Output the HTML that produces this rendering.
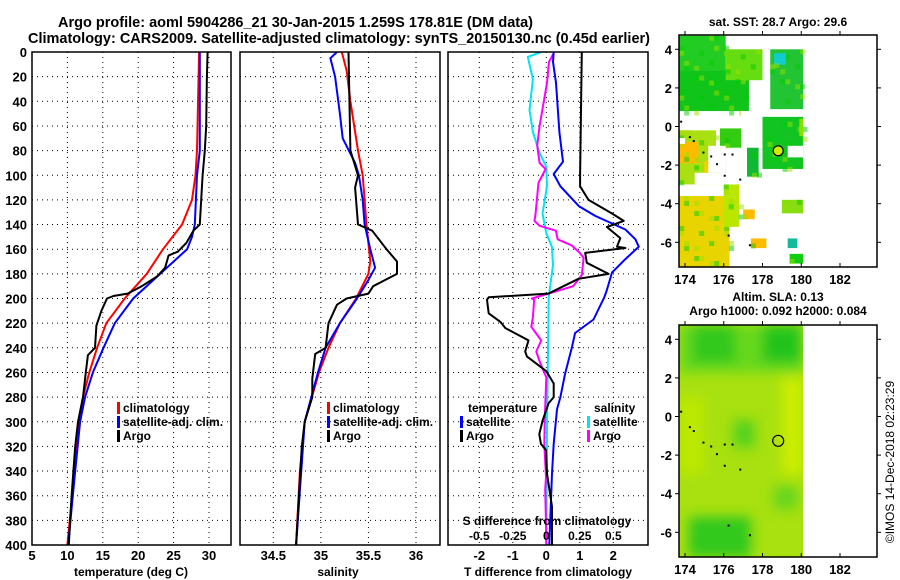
<!DOCTYPE html>
<html><head><meta charset="utf-8"><style>
html,body{margin:0;padding:0;background:#fff;}
svg{display:block;font-family:"Liberation Sans",sans-serif;font-weight:bold;}
</style></head><body>
<svg id="c" width="900" height="580" viewBox="0 0 900 580" xmlns="http://www.w3.org/2000/svg">
<defs>
<filter id="blur" x="-20%" y="-20%" width="140%" height="140%"><feGaussianBlur stdDeviation="6"/></filter>
<clipPath id="clipP1"><rect x="32" y="52" width="199" height="493"/></clipPath>
<clipPath id="clipP2"><rect x="240" y="52" width="200" height="493"/></clipPath>
<clipPath id="clipP3"><rect x="448" y="52" width="200" height="493"/></clipPath>
<clipPath id="clipM2"><rect x="679" y="35" width="198" height="232"/></clipPath>
<clipPath id="clipM3"><rect x="679" y="325" width="198" height="232"/></clipPath>
</defs>
<text x="58" y="27" font-size="15" textLength="475" lengthAdjust="spacingAndGlyphs">Argo profile: aoml 5904286_21 30-Jan-2015 1.259S 178.81E (DM data)</text>
<text x="28" y="43" font-size="15" textLength="622" lengthAdjust="spacingAndGlyphs">Climatology: CARS2009. Satellite-adjusted climatology: synTS_20150130.nc (0.45d earlier)</text>
<text x="778" y="26" font-size="12" text-anchor="middle">sat. SST: 28.7 Argo: 29.6</text>
<text x="778" y="301" font-size="12" text-anchor="middle">Altim. SLA: 0.13</text>
<text x="778" y="315" font-size="12" text-anchor="middle">Argo h1000: 0.092 h2000: 0.084</text>
<text transform="translate(894,462) rotate(-90)" font-size="12" font-weight="normal" text-anchor="middle">©IMOS 14-Dec-2018 02:23:29</text>
<g id="g"></g>
</svg>
<script>
// ---------------- data ----------------
const depthTicks=[0,20,40,60,80,100,120,140,160,180,200,220,240,260,280,300,320,340,360,380,400];
const tempTicks=[5,10,15,20,25,30];
const salTicks=[34.5,35,35.5,36];
const tdiffTicks=[-2,-1,0,1,2];
const sdiffTickLabels=["-0.5","-0.25","0","0.25","0.5"];
const sdiffTicks=[-0.5,-0.25,0,0.25,0.5];
const lonTicks=[174,176,178,180,182];
const latTicks=[4,2,0,-2,-4,-6];

const tArgoDepth=[0,20,60,80,100,120,140,145,155,162,165,175,182,190,196,198,200,210,222,240,246,260,280,300,320,360,400];
const tArgoVal=[29.8,29.7,29.6,29.4,29.1,28.9,28.7,27.8,26.8,25.6,24.3,23.8,22.7,20.5,18.5,16.5,15.6,14.8,14.1,13.9,12.9,12.6,12.2,11.5,11.1,10.6,10.2];
const tClimDepth=[0,80,100,120,140,160,180,200,220,240,260,280,300,340,400];
const tClimVal=[28.6,28.3,28.1,27.6,26.2,23.5,21.2,18.1,15.5,14.2,13.1,12.2,11.6,11.0,10.0];
const tSatDepth=[0,80,100,140,150,160,180,200,220,240,260,280,300,340,400];
const tSatVal=[28.7,28.7,28.3,28.0,27.6,26.9,23.1,19.3,16.7,15.1,13.6,12.5,11.8,11.1,10.1];

const sArgoDepth=[0,80,100,110,140,145,160,170,180,190,196,200,205,220,240,245,265,280,300,320,400];
const sArgoVal=[35.29,35.31,35.39,35.36,35.39,35.54,35.69,35.80,35.80,35.55,35.50,35.27,35.17,35.08,35.05,34.94,34.91,34.91,34.83,34.80,34.74];
const sClimDepth=[0,15,40,80,100,140,170,180,200,220,240,260,300,340,400];
const sClimVal=[35.22,35.27,35.31,35.39,35.44,35.48,35.52,35.50,35.37,35.20,35.08,34.98,34.83,34.78,34.74];
const sSatDepth=[0,5,20,50,70,90,100,120,140,160,175,185,200,220,240,260,300,400];
const sSatVal=[35.17,35.10,35.15,35.20,35.23,35.36,35.40,35.44,35.46,35.52,35.57,35.50,35.38,35.20,35.05,34.97,34.83,34.74];

const dTArgoDepth=[0,100,109,120,131,137,142,151,158,159,163,171,180,184,196,199,201,212,219,224,234,243,247,259,269,280,285,299,310,318,323,342,369,400];
const dTArgoVal=[1.06,1.01,1.01,1.26,1.96,2.31,1.81,2.21,2.11,2.36,1.16,1.21,1.86,0.96,0.06,-1.72,-1.77,-1.72,-1.37,-1.22,-0.53,-0.63,-0.58,0.0,0.22,0.22,0.07,-0.11,-0.21,-0.16,-0.01,0.02,0.17,0.17];
const dTSatDepth=[0,8,25,65,89,99,109,125,133,144,152,158,168,179,193,199,217,228,240,261,280,290,318,342,400];
const dTSatVal=[0.22,0.20,0.29,0.39,0.50,0.22,0.42,0.97,1.46,2.36,2.66,2.76,2.36,1.96,1.81,1.73,1.41,0.86,0.76,0.56,0.42,0.32,0.22,0.17,0.09];
const dSArgoDepth=[1,8,25,60,76,90,95,106,131,137,141,145,152,157,163,167,181,190,196,200,201,215,223,234,243,251,264,288,302,318,345,355,383,400];
const dSArgoVal=[0.055,0.02,0.005,-0.05,-0.068,-0.05,-0.005,-0.058,-0.08,-0.088,-0.05,0.072,0.085,0.19,0.25,0.278,0.265,0.2,0.018,-0.108,-0.09,-0.1,-0.112,-0.038,-0.075,-0.05,0.0,-0.008,-0.012,-0.015,-0.002,-0.008,-0.002,0.0];
const dSSatDepth=[0,4,22,47,65,82,93,109,131,147,158,173,199,201,302,400];
const dSSatVal=[-0.038,-0.138,-0.1,-0.125,-0.1,-0.05,0.0,0.005,-0.028,0.0,0.042,0.05,0.018,0.018,0.005,0.0];

// SST map patches: lon0, lon1, lat0, lat1, colour
const sstLon0=[173.7,173.7,176.1,178.4,178.6,173.7,173.7,173.7,176.0,178.0,177.2,175.8,179.0,179.3,179.4,177.0,177.4,173.7,175.0,179.9];
const sstLon1=[176.1,177.3,178.0,180.1,179.2,175.6,174.7,176.3,176.8,180.1,177.8,176.9,180.1,179.8,180.1,177.6,178.2,174.4,176.1,180.1];
const sstLat0=[2.9,0.8,2.4,0.9,3.2,-3.0,-1.9,-7.3,-5.2,-2.2,-2.6,-1.1,-4.5,-6.3,-7.1,-4.8,-6.3,-0.6,-2.4,-0.5];
const sstLat1=[4.7,2.9,4.0,4.0,3.8,-0.2,-0.8,-3.6,-3.0,0.5,-1.1,-0.1,-3.8,-5.8,-6.6,-4.3,-5.8,-0.2,-1.8,0.4];
const sstCol=["#22cc22","#11c41a","#66dd11","#22c433","#11cccc","#aae011","#ffbb00","#e8d400","#bbe600","#11c422","#11b833","#33cc11","#88dd11","#11bb99","#11cc11","#ffbb00","#ffbb00","#aadd11","#ffcc00","#88dd00"];

// SLA map blobs
const slaLon0=[173.7,174.4,178.0,179.0,174.2,176.5,178.6,173.7];
const slaLon1=[180.1,176.6,180.0,180.1,177.4,177.6,179.8,175.0];
const slaLat0=[2.3,2.8,2.8,-3.0,-7.3,-1.6,-4.8,-3.0];
const slaLat1=[4.74,4.74,4.74,2.0,-5.2,-0.2,-3.6,1.0];
const slaCol=["#66d81a","#33c81a","#22c41a","#ccee00","#33c81a","#55d11a","#66d61a","#bde800"];

const argoLon=178.81, argoLat=-1.259;
const coastLon=[173.75,174.2,174.4,174.9,175.3,175.6,176.0,176.4,176.0,176.8,176.2,177.3];
const coastLat=[0.3,-0.5,-0.7,-1.3,-1.5,-1.9,-1.4,-1.4,-2.5,-2.7,-5.6,-6.1];

// ---------------- helpers ----------------
const NS="http://www.w3.org/2000/svg";
const G=document.getElementById('g');
function el(tag,attrs,parent){const e=document.createElementNS(NS,tag);for(const k in attrs)e.setAttribute(k,attrs[k]);(parent||G).appendChild(e);return e;}
const Y0=52,Y1=545;
const yD=d=>Y0+(d/400)*(Y1-Y0);
function xLin(a0,a1,p0,p1){return v=>p0+(v-a0)/(a1-a0)*(p1-p0);}
const xT=xLin(5,30,32,209);
const xS=xLin(34.5,36,273.3,416);
const xDT=xLin(-2,2,479.3,613.3);
const xDS=v=>xDT(v*4);
const lonX=xLin(174,182,685,840);
const latY1=xLin(4,-6,49.3,242.3);
const latY2=xLin(4,-6,339.3,532.3);

function grid(px0,px1,xs){
  const gg=el('g',{});
  
  
  depthTicks.forEach(d=>{if(d>0&&d<400)el('line',{x1:px0,x2:px1,y1:yD(d),y2:yD(d),stroke:'#000','stroke-width':1,'stroke-dasharray':'1,4'},gg);});
  xs.forEach(x=>{if(x>px0+2&&x<px1-2)el('line',{x1:x,x2:x,y1:Y0,y2:Y1,stroke:'#000','stroke-width':1,'stroke-dasharray':'1,4'},gg);});
}
function frame(x0,x1,name){
  const r=el('rect',{x:x0,y:Y0,width:x1-x0,height:Y1-Y0,fill:'none',stroke:'#000','stroke-width':1.5});
  
  
}
function line(ds,vs,fx,col,clip,name){
  const pts=ds.map((d,i)=>fx(vs[i]).toFixed(1)+','+yD(d).toFixed(1)).join(' ');
  const p=el('polyline',{points:pts,fill:'none',stroke:col,'stroke-width':2,'clip-path':'url(#'+clip+')','stroke-linejoin':'round'});
  
  
}
function txt(x,y,s,size,anchor,name,extra){
  const t=el('text',Object.assign({x:x,y:y,'font-size':size,'text-anchor':anchor||'middle'},extra||{}));
  t.textContent=s;
  
  
  return t;
}
function legendEntry(x,y,col,label,name){
  const b=el('rect',{x:x,y:y-10,width:3,height:12,fill:col});
  
  
  txt(x+6,y,label,12,'start',name);
}

// ---------------- panel 1: temperature ----------------
grid(32,231,tempTicks.map(xT));
line(tClimDepth,tClimVal,xT,'#ff0000','clipP1','temp-climatology-line');
line(tSatDepth,tSatVal,xT,'#0000ff','clipP1','temp-satellite-line');
line(tArgoDepth,tArgoVal,xT,'#000000','clipP1','temp-argo-line');
frame(32,231,'temperature-panel');
depthTicks.forEach(d=>txt(27,yD(d)+5,String(d),13,'end','depth-tick-label'));
tempTicks.forEach(v=>txt(xT(v),560,String(v),13,'middle','temp-tick-label'));
txt(131,576,'temperature (deg C)',12,'middle','temperature-axis-title');
legendEntry(117,412,'#ff0000','climatology','legend-climatology');
legendEntry(117,426,'#0000ff','satellite-adj. clim.','legend-satellite-adj');
legendEntry(117,440,'#000000','Argo','legend-argo');

// ---------------- panel 2: salinity ----------------
grid(240,440,salTicks.map(xS));
line(sClimDepth,sClimVal,xS,'#ff0000','clipP2','sal-climatology-line');
line(sSatDepth,sSatVal,xS,'#0000ff','clipP2','sal-satellite-line');
line(sArgoDepth,sArgoVal,xS,'#000000','clipP2','sal-argo-line');
frame(240,440,'salinity-panel');
salTicks.forEach(v=>txt(xS(v),560,String(v),13,'middle','sal-tick-label'));
txt(338,576,'salinity',12,'middle','salinity-axis-title');
legendEntry(327,412,'#ff0000','climatology','legend2-climatology');
legendEntry(327,426,'#0000ff','satellite-adj. clim.','legend2-satellite-adj');
legendEntry(327,440,'#000000','Argo','legend2-argo');

// ---------------- panel 3: differences ----------------
grid(448,648,tdiffTicks.map(xDT));
line(dSSatDepth,dSSatVal,xDS,'#00e5ee','clipP3','sdiff-satellite-line');
line(dSArgoDepth,dSArgoVal,xDS,'#ff00ff','clipP3','sdiff-argo-line');
line(dTSatDepth,dTSatVal,xDT,'#0000ff','clipP3','tdiff-satellite-line');
line(dTArgoDepth,dTArgoVal,xDT,'#000000','clipP3','tdiff-argo-line');
frame(448,648,'difference-panel');
tdiffTicks.forEach(v=>txt(xDT(v),560,String(v),13,'middle','tdiff-tick-label'));
sdiffTicks.forEach((v,i)=>txt(xDS(v),540,sdiffTickLabels[i],12,'middle','sdiff-tick-label'));
txt(547,525,'S difference from climatology',12,'middle','sdiff-axis-title');
txt(548,576,'T difference from climatology',12,'middle','tdiff-axis-title');
txt(468,412,'temperature',12,'start','legend3-temperature-heading');
legendEntry(460,426,'#0000ff','satellite','legend3-t-satellite');
legendEntry(460,440,'#000000','Argo','legend3-t-argo');
txt(594,412,'salinity',12,'start','legend3-salinity-heading');
legendEntry(587,426,'#00e5ee','satellite','legend3-s-satellite');
legendEntry(587,440,'#ff00ff','Argo','legend3-s-argo');

// ---------------- maps ----------------
function mapAxes(top,bottom,latY,name){
  const r=el('rect',{x:679,y:top,width:198,height:bottom-top,fill:'none',stroke:'#000','stroke-width':1.5});
  
  
  lonTicks.forEach(l=>{const x=lonX(l);
    el('line',{x1:x,x2:x,y1:top,y2:top-4,stroke:'#000'});el('line',{x1:x,x2:x,y1:bottom,y2:bottom-4,stroke:'#000'});
    txt(x,bottom+17,String(l),13,'middle',name+'-lon-tick');});
  latTicks.forEach(l=>{const y=latY(l);
    el('line',{x1:877,x2:881,y1:y,y2:y,stroke:'#000'});el('line',{x1:679,x2:675,y1:y,y2:y,stroke:'#000'});
    txt(672,y+5,String(l),13,'end',name+'-lat-tick');});
}
// SST map
const sstG=el('g',{'clip-path':'url(#clipM2)'});


sstLon0.forEach((l0,i)=>{
  const x0=lonX(l0),x1=lonX(sstLon1[i]),y0=latY1(sstLat1[i]),y1=latY1(sstLat0[i]);
  const c=el('rect',{x:x0,y:y0,width:x1-x0,height:y1-y0,fill:sstCol[i]},sstG);
  
  
  for(let yy=y0;yy<y1;yy+=5)for(let xx=x0;xx<x1;xx+=5){
    const k=(Math.floor(xx/5)*7+Math.floor(yy/5)*13+Math.floor(xx/5)*Math.floor(yy/5))%9;
    if(k===0||k===4)el('rect',{x:xx,y:yy,width:5,height:5,fill:k===0?'#00cc00':'#99e000',opacity:0.5},sstG);
  }
});
// white gaps
[[175.2,176.1,-2.4,-1.0],[174.5,176.6,-3.0,-2.4],[173.7,174.0,-0.9,-0.6],[176.9,178.0,-0.3,0.8],[179.3,180.1,-1.6,-1.0],[174.6,175.8,-3.6,-3.0]].forEach(b=>{
  el('rect',{x:lonX(b[0]),y:latY1(b[3]),width:lonX(b[1])-lonX(b[0]),height:latY1(b[2])-latY1(b[3]),fill:'#fff'},sstG);
});
coastLon.forEach((l,i)=>el('rect',{x:lonX(l),y:latY1(coastLat[i]),width:2,height:2,fill:'#000'},sstG));
const a1=el('circle',{cx:lonX(argoLon),cy:latY1(argoLat),r:5,fill:'#ccee00',stroke:'#000','stroke-width':1.2});


mapAxes(35,267,latY1,'sst-map');

// SLA map
const slaG=el('g',{'clip-path':'url(#clipM3)'});


el('rect',{x:679,y:325,width:lonX(180.1)-679,height:232,fill:'#a8e010'},slaG);
const blobG=el('g',{filter:'url(#blur)'},slaG);
slaLon0.forEach((l0,i)=>{
  const b=el('rect',{x:lonX(l0),y:latY2(slaLat1[i]),width:lonX(slaLon1[i])-lonX(l0),height:latY2(slaLat0[i])-latY2(slaLat1[i]),fill:slaCol[i]},blobG);
  
  
});
el('rect',{x:lonX(180.1),y:325,width:877-lonX(180.1),height:232,fill:'#fff'},slaG);
coastLon.forEach((l,i)=>el('rect',{x:lonX(l),y:latY2(coastLat[i]),width:2,height:2,fill:'#000'},slaG));
const a2=el('circle',{cx:lonX(argoLon),cy:latY2(argoLat),r:5.5,fill:'none',stroke:'#000','stroke-width':1.2});


mapAxes(325,557,latY2,'sla-map');
</script>
</body></html>
